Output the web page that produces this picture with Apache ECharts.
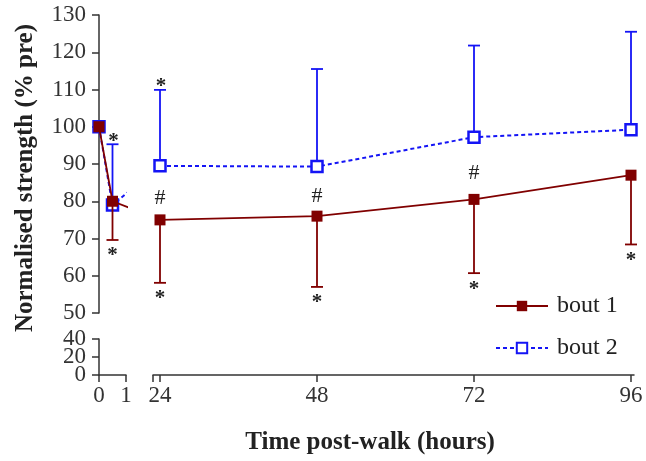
<!DOCTYPE html>
<html><head><meta charset="utf-8">
<script src="https://cdn.jsdelivr.net/npm/echarts@6/dist/echarts.min.js"></script>
<style>html,body{margin:0;padding:0;background:#fff}#c{width:646px;height:461px}</style>
</head><body><div id="c"></div>
<script>
// ---- data ----
const hours = [0, 0.5, 24, 48, 72, 96];
const bout1 = [100, 80, 75, 76, 80.5, 87];
const bout1ErrLow = [0, 10.4, 16.9, 19, 19.8, 18.6];
const bout2 = [100, 79, 89.5, 89.3, 97.2, 99.2];
const bout2ErrHigh = [0, 16.3, 20.4, 26.2, 24.6, 26.3];
const bout1Star = ['', '*', '*', '*', '*', '*'];
const bout2Star = ['', '*', '*', '', '', ''];
const hashMark = ['', '', '#', '#', '#', ''];
const earlyTicks = [0, 1];
const lateTicks = [24, 48, 72, 96];
const lowerYTicks = [0, 20, 40];

// ---- layout ----
const AX = 99, SEG1_R = 126, SEG2_L = 153, SEG2_R = 634;
const TOP = 15, UP_BOT = 313, LOW_TOP = 339, LOW_BOT = 375;
const X24 = 160, X96 = 631;
const kLate = (X96 - X24) / 72;
const kEarly = (SEG1_R - AX) / 1;
const lateMin = 24 - (X24 - SEG2_L) / kLate;
const lateMax = 96 + (SEG2_R - X96) / kLate;
// display coordinate for the early segment so connecting lines run in screen space across the break
function toDisp(h) { return h <= 1 ? h : ((X24 + (h - 24) * kLate) - AX) / kEarly; }

const RED = '#800000', BLUE = '#1414f5', AXC = '#333';
const FONT = 'Liberation Serif';

const early = hours.map((h, i) => i).filter(i => hours[i] <= 1);
const late = hours.map((h, i) => i).filter(i => hours[i] >= 24);
// split the tightly packed lower tick labels over two overlaid axes so none is auto-hidden
const lowerOuter = lowerYTicks.filter((v, i) => i % 2 === 0);
const lowerInner = lowerYTicks.filter((v, i) => i % 2 === 1);

function lineData(vals, idxs, grid0) {
  return idxs.map(i => [grid0 ? toDisp(hours[i]) : hours[i], vals[i]]);
}
function errData(vals, errs, sign, idxs) {
  return idxs.filter(i => errs[i] > 0).map(i => [hours[i], vals[i], vals[i] + sign * errs[i]]);
}
function errRender(color) {
  return function (params, api) {
    const p1 = api.coord([api.value(0), api.value(1)]);
    const p2 = api.coord([api.value(0), api.value(2)]);
    return { type: 'group', children: [
      { type: 'line', shape: { x1: p1[0], y1: p1[1], x2: p2[0], y2: p2[1] }, style: { stroke: color, lineWidth: 1.8 } },
      { type: 'line', shape: { x1: p2[0] - 6, y1: p2[1], x2: p2[0] + 6, y2: p2[1] }, style: { stroke: color, lineWidth: 1.8 } }
    ]};
  };
}
function annData(idxs) {
  return idxs.map(i => [hours[i], bout1[i] - bout1ErrLow[i], bout2[i] + bout2ErrHigh[i], bout1[i], bout2[i], i]);
}
function annRender(params, api) {
  const i = api.value(5);
  const x = api.value(0);
  const children = [];
  const lowCap = api.coord([x, api.value(1)]);
  const highCap = api.coord([x, api.value(2)]);
  const m1 = api.coord([x, api.value(3)]);
  const m2 = api.coord([x, api.value(4)]);
  const st = { fill: '#222', font: 'bold 21px ' + FONT, textAlign: 'center', textVerticalAlign: 'middle' };
  if (bout1Star[i]) children.push({ type: 'text', x: lowCap[0], y: lowCap[1] + 16, style: Object.assign({ text: bout1Star[i] }, st) });
  if (bout2Star[i]) children.push({ type: 'text', x: highCap[0] + 1, y: highCap[1] - 3, style: Object.assign({ text: bout2Star[i] }, st) });
  if (hashMark[i]) children.push({ type: 'text', x: m1[0], y: (m1[1] + m2[1]) / 2 + 5, style: Object.assign({ text: hashMark[i] }, st, { font: '22px ' + FONT }) });
  return { type: 'group', children };
}

const axisLabelStyle = { color: '#333', fontFamily: FONT, fontSize: 23 };
const hiddenX = { type: 'value', show: false };
const chart = echarts.init(document.getElementById('c'));
chart.setOption({
  animation: false,
  backgroundColor: '#fff',
  grid: [
    { left: AX, top: TOP, width: SEG1_R - AX, height: UP_BOT - TOP },
    { left: SEG2_L, top: TOP, width: SEG2_R - SEG2_L, height: UP_BOT - TOP },
    { left: AX, top: LOW_TOP, width: SEG1_R - AX, height: LOW_BOT - LOW_TOP },
    { left: SEG2_L, top: LOW_TOP, width: SEG2_R - SEG2_L, height: LOW_BOT - LOW_TOP }
  ],
  xAxis: [
    Object.assign({ gridIndex: 0, min: 0, max: 1 }, hiddenX),
    Object.assign({ gridIndex: 1, min: lateMin, max: lateMax }, hiddenX),
    { type: 'value', gridIndex: 2, min: 0, max: 1, interval: 1, splitLine: { show: false },
      axisLine: { onZero: false, lineStyle: { color: AXC, width: 1.5 } },
      axisTick: { length: 7, lineStyle: { color: AXC, width: 1.5 }, customValues: earlyTicks },
      axisLabel: Object.assign({ margin: 9, customValues: earlyTicks, showMinLabel: true, showMaxLabel: true }, axisLabelStyle) },
    { type: 'value', gridIndex: 3, min: lateMin, max: lateMax, splitLine: { show: false },
      axisLine: { onZero: false, lineStyle: { color: AXC, width: 1.5 } },
      axisTick: { length: 7, lineStyle: { color: AXC, width: 1.5 }, customValues: [lateMin].concat(lateTicks) },
      axisLabel: Object.assign({ margin: 9, customValues: lateTicks }, axisLabelStyle) }
  ],
  yAxis: [
    { type: 'value', gridIndex: 0, min: 50, max: 130, interval: 10, splitLine: { show: false },
      axisLine: { show: true, onZero: false, lineStyle: { color: AXC, width: 1.5 } },
      axisTick: { length: 7, lineStyle: { color: AXC, width: 1.5 } },
      axisLabel: Object.assign({ margin: 13, showMinLabel: true, showMaxLabel: true }, axisLabelStyle) },
    { type: 'value', gridIndex: 1, min: 50, max: 130, show: false },
    { type: 'value', gridIndex: 2, min: 0, max: 40, interval: 40, splitLine: { show: false },
      axisLine: { show: true, onZero: false, lineStyle: { color: AXC, width: 1.5 } },
      axisTick: { length: 7, lineStyle: { color: AXC, width: 1.5 }, customValues: lowerOuter },
      axisLabel: Object.assign({ margin: 13, customValues: lowerOuter, showMinLabel: true, showMaxLabel: true }, axisLabelStyle) },
    { type: 'value', gridIndex: 3, min: 0, max: 40, show: false },
    { type: 'value', gridIndex: 2, min: 0, max: 40, position: 'left', splitLine: { show: false },
      axisLine: { show: false, onZero: false },
      axisTick: { length: 7, lineStyle: { color: AXC, width: 1.5 }, customValues: lowerInner },
      axisLabel: Object.assign({ margin: 13, customValues: lowerInner }, axisLabelStyle) }
  ],
  legend: [
    { data: ['bout 1'], orient: 'vertical', left: 495, top: 294, padding: 0, itemWidth: 52, itemHeight: 13,
      textStyle: { fontFamily: FONT, fontSize: 24, color: '#222', padding: [0, 0, 0, 4] } },
    { data: ['bout 2'], orient: 'vertical', left: 495, top: 336, padding: 0, itemWidth: 52, itemHeight: 13,
      textStyle: { fontFamily: FONT, fontSize: 24, color: '#222', padding: [0, 0, 0, 4] } }
  ],
  graphic: [
    { type: 'text', x: 26, y: 178, rotation: Math.PI / 2,
      style: { text: 'Normalised strength (% pre)', font: 'bold 25px ' + FONT, fill: '#222', textAlign: 'center', textVerticalAlign: 'middle' } },
    { type: 'text', x: 370, y: 443,
      style: { text: 'Time post-walk (hours)', font: 'bold 25px ' + FONT, fill: '#222', textAlign: 'center', textVerticalAlign: 'middle' } }
  ],
  series: [
    { type: 'custom', name: 'bout 2 err', xAxisIndex: 0, yAxisIndex: 0, renderItem: errRender(BLUE), data: errData(bout2, bout2ErrHigh, 1, early), z: 2 },
    { type: 'custom', name: 'bout 2 err', xAxisIndex: 1, yAxisIndex: 1, renderItem: errRender(BLUE), data: errData(bout2, bout2ErrHigh, 1, late), z: 2 },
    { type: 'line', name: 'bout 2', xAxisIndex: 0, yAxisIndex: 0, data: lineData(bout2, hours.map((h, i) => i), true), clip: true,
      symbol: 'rect', symbolSize: 11, lineStyle: { color: BLUE, width: 2, type: [4, 3] },
      itemStyle: { color: '#fff', borderColor: BLUE, borderWidth: 2.5 }, z: 3 },
    { type: 'line', name: 'bout 2', xAxisIndex: 1, yAxisIndex: 1, data: lineData(bout2, late, false), clip: true,
      symbol: 'rect', symbolSize: 11, lineStyle: { color: BLUE, width: 2, type: [4, 3] },
      itemStyle: { color: '#fff', borderColor: BLUE, borderWidth: 2.5 }, z: 3 },
    { type: 'custom', name: 'bout 1 err', xAxisIndex: 0, yAxisIndex: 0, renderItem: errRender(RED), data: errData(bout1, bout1ErrLow, -1, early), z: 4 },
    { type: 'custom', name: 'bout 1 err', xAxisIndex: 1, yAxisIndex: 1, renderItem: errRender(RED), data: errData(bout1, bout1ErrLow, -1, late), z: 4 },
    { type: 'line', name: 'bout 1', xAxisIndex: 0, yAxisIndex: 0, data: lineData(bout1, hours.map((h, i) => i), true), clip: true,
      symbol: 'rect', symbolSize: 11, lineStyle: { color: RED, width: 1.8 },
      itemStyle: { color: RED }, z: 5 },
    { type: 'line', name: 'bout 1', xAxisIndex: 1, yAxisIndex: 1, data: lineData(bout1, late, false), clip: true,
      symbol: 'rect', symbolSize: 11, lineStyle: { color: RED, width: 1.8 },
      itemStyle: { color: RED }, z: 5 },
    { type: 'custom', name: 'ann', xAxisIndex: 0, yAxisIndex: 0, renderItem: annRender, data: annData(early), z: 6 },
    { type: 'custom', name: 'ann', xAxisIndex: 1, yAxisIndex: 1, renderItem: annRender, data: annData(late), z: 6 }
  ]
});
</script></body></html>
